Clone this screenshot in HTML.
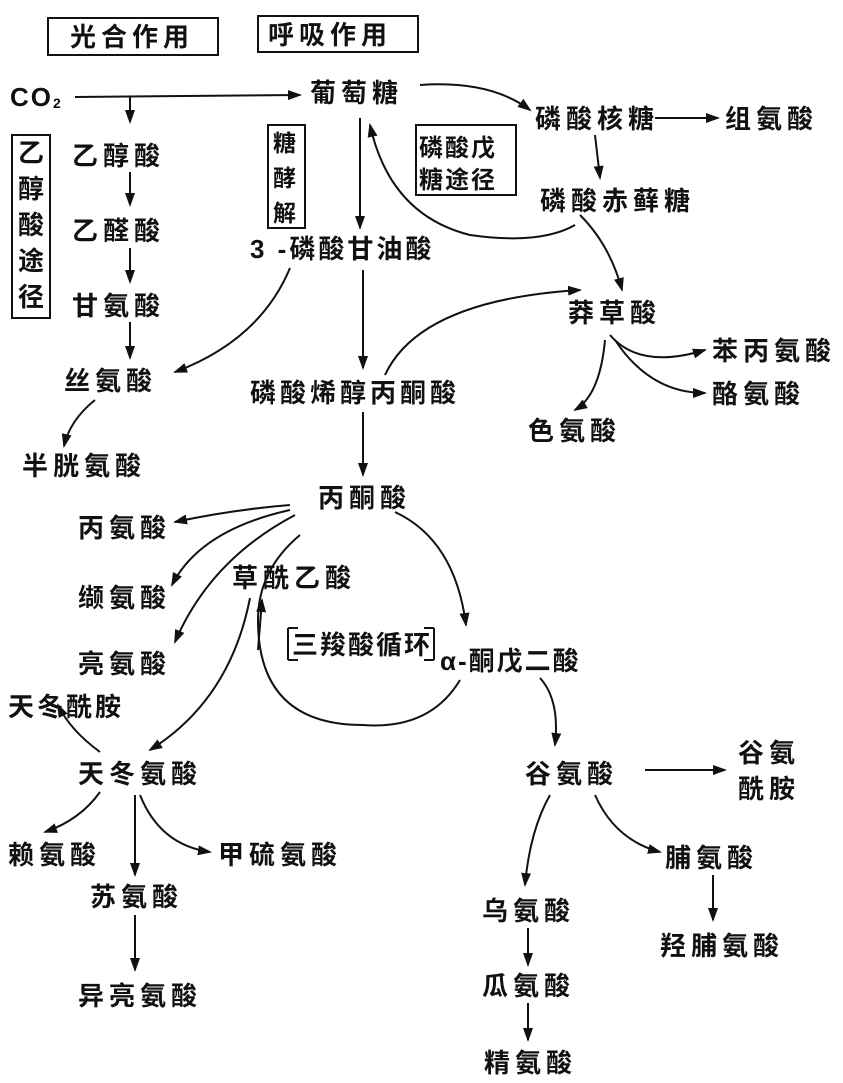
<!DOCTYPE html>
<html><head><meta charset="utf-8"><style>
html,body{margin:0;padding:0;background:#fff;}
svg{display:block;}
text{font-family:"Liberation Sans","Noto Sans CJK SC",sans-serif;font-size:26px;font-weight:bold;fill:#111;letter-spacing:5px;}
text.v{letter-spacing:0;}
</style></head><body>
<svg width="843" height="1083" viewBox="0 0 843 1083" xmlns="http://www.w3.org/2000/svg">
<defs><marker id="a" markerWidth="14" markerHeight="10" refX="12" refY="5" orient="auto" markerUnits="userSpaceOnUse"><path d="M0,0 L14,5 L0,10 Z" fill="#111"/></marker></defs>
<g fill="none" stroke="#111" stroke-width="2">
<rect x="48" y="18" width="170" height="37"/>
<rect x="258" y="16" width="160" height="36"/>
<rect x="12" y="135" width="38" height="183"/>
<rect x="268" y="125" width="37" height="103"/>
<rect x="416" y="125" width="100" height="70"/>
<path d="M288,628 L288,660 M288,628 L298,628 M288,660 L298,660 M434,628 L434,660 M434,628 L424,628 M434,660 L424,660"/>
</g>
<g fill="none" stroke="#111" stroke-width="2" marker-end="url(#a)">
<path d="M75,97 L300,95"/>
<path d="M130,97 L130,122"/>
<path d="M130,172 L130,205"/>
<path d="M130,248 L130,282"/>
<path d="M130,322 L130,358"/>
<path d="M95,400 Q70,420 64,446"/>
<path d="M290,268 Q260,340 175,372"/>
<path d="M360,118 L360,228"/>
<path d="M363,270 L363,368"/>
<path d="M363,412 L363,475"/>
<path d="M420,85 Q490,80 530,110"/>
<path d="M655,118 L718,118"/>
<path d="M595,135 L600,178"/>
<path d="M575,225 Q540,245 470,235 Q390,215 370,125"/>
<path d="M580,215 Q610,245 622,290"/>
<path d="M385,375 Q420,300 580,290"/>
<path d="M610,335 Q640,370 705,350"/>
<path d="M615,340 Q650,393 705,393"/>
<path d="M605,340 Q600,395 575,410"/>
<path d="M290,505 Q230,510 175,522"/>
<path d="M290,510 Q200,530 172,585"/>
<path d="M295,515 Q210,560 175,642"/>
<path d="M395,512 Q455,540 466,625"/>
<path d="M460,680 Q430,730 363,725 Q258,725 258,620 Q258,570 300,535" marker-end="none"/>
<path d="M258,650 L262,600"/>
<path d="M250,598 Q230,700 150,750"/>
<path d="M100,752 Q70,730 58,705"/>
<path d="M100,792 Q80,820 45,832"/>
<path d="M135,795 L135,875"/>
<path d="M140,795 Q160,845 210,852"/>
<path d="M135,915 L135,970"/>
<path d="M540,678 Q560,700 555,745"/>
<path d="M645,770 L725,770"/>
<path d="M550,795 Q530,830 525,885"/>
<path d="M595,795 Q615,840 660,852"/>
<path d="M713,875 L713,920"/>
<path d="M528,928 L528,965"/>
<path d="M528,1003 L528,1040"/>
</g>
<text x="70" y="46">光合作用</text>
<text x="268" y="44">呼吸作用</text>
<text x="10" y="106" style="font-size:26px;letter-spacing:2px">CO<tspan style="font-size:14px" dy="2">2</tspan></text>
<text x="310" y="102">葡萄糖</text>
<text x="535" y="128">磷酸核糖</text>
<text x="725" y="128">组氨酸</text>
<text x="72" y="165">乙醇酸</text>
<text class="v" x="18" y="162">乙</text><text class="v" x="18" y="198">醇</text><text class="v" x="18" y="234">酸</text><text class="v" x="18" y="270">途</text><text class="v" x="18" y="306">径</text>
<text class="v" x="273" y="151" style="font-size:23px">糖</text><text class="v" x="273" y="186" style="font-size:23px">酵</text><text class="v" x="273" y="221" style="font-size:23px">解</text>
<text class="v" x="419" y="156" style="font-size:24px;letter-spacing:2px">磷酸戊</text><text class="v" x="419" y="188" style="font-size:24px;letter-spacing:2px">糖途径</text>
<text x="540" y="210">磷酸赤藓糖</text>
<text x="72" y="240">乙醛酸</text>
<text x="250" y="258" style="letter-spacing:3px">3 -磷酸甘油酸</text>
<text x="72" y="315">甘氨酸</text>
<text x="568" y="322">莽草酸</text>
<text x="712" y="360">苯丙氨酸</text>
<text x="64" y="390">丝氨酸</text>
<text x="250" y="402" style="letter-spacing:4px">磷酸烯醇丙酮酸</text>
<text x="712" y="403">酪氨酸</text>
<text x="528" y="440">色氨酸</text>
<text x="22" y="475">半胱氨酸</text>
<text x="318" y="507">丙酮酸</text>
<text x="78" y="537">丙氨酸</text>
<text x="232" y="587">草酰乙酸</text>
<text x="78" y="607">缬氨酸</text>
<text x="292" y="654" style="letter-spacing:2px">三羧酸循环</text>
<text x="440" y="670" style="letter-spacing:2px">α-酮戊二酸</text>
<text x="78" y="673">亮氨酸</text>
<text x="8" y="716" style="letter-spacing:3px">天冬酰胺</text>
<text x="78" y="783">天冬氨酸</text>
<text x="525" y="783">谷氨酸</text>
<text x="738" y="762">谷氨</text><text x="738" y="798">酰胺</text>
<text x="8" y="864">赖氨酸</text>
<text x="218" y="864">甲硫氨酸</text>
<text x="665" y="867">脯氨酸</text>
<text x="90" y="906">苏氨酸</text>
<text x="482" y="920">乌氨酸</text>
<text x="660" y="955">羟脯氨酸</text>
<text x="482" y="995">瓜氨酸</text>
<text x="78" y="1005">异亮氨酸</text>
<text x="484" y="1072">精氨酸</text>
</svg>
</body></html>
